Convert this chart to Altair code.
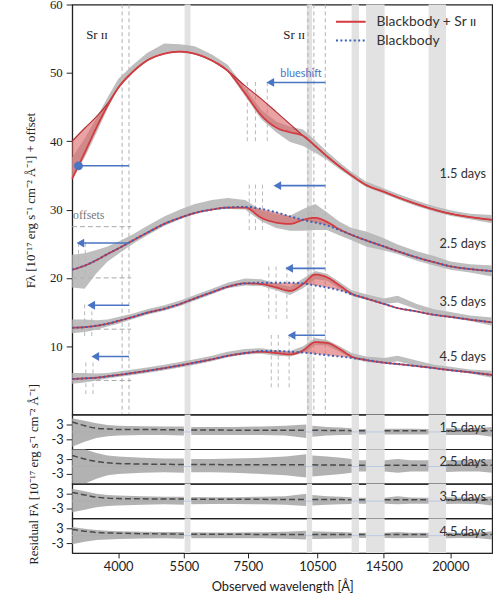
import altair as alt
import pandas as pd

# ---------------- data ----------------
wl = [3200, 3400, 3600, 3800, 4000, 4300, 4600, 5000, 5400, 5800, 6300, 6800, 7400,
      8000, 8600, 9200, 9800, 10400, 11000, 11700, 12400, 13300, 14500, 15500,
      17000, 18500, 20000, 22000, 24500]

epochs = ["1.5 days", "2.5 days", "3.5 days", "4.5 days"]

bb_15 = [40.0, 41.9, 43.6, 45.5, 47.8, 50.2, 51.8, 52.8, 53.1, 52.8, 51.8, 50.3, 48.1,
         46.2, 44.3, 42.5, 40.8, 39.3, 37.8, 36.3, 35.0, 33.6, 32.6, 31.8, 30.8, 30.0, 29.4, 28.9, 28.5]
red_15 = [34.5, 38.3, 42.0, 45.2, 47.8, 50.2, 51.8, 52.8, 53.1, 52.8, 51.8, 50.3, 47.0,
          43.8, 42.0, 41.3, 40.8, 39.3, 37.8, 36.3, 35.0, 33.6, 32.6, 31.8, 30.8, 30.0, 29.4, 28.9, 28.5]
bb_25 = [21.2, 21.8, 22.6, 23.5, 24.3, 25.5, 26.6, 27.9, 28.8, 29.5, 30.0, 30.3, 30.4,
         30.1, 29.6, 29.0, 28.5, 28.1, 27.7, 27.0, 26.3, 25.5, 24.6, 23.9, 23.0, 22.3, 21.7, 21.3, 21.0]
red_25 = [21.2, 21.8, 22.6, 23.5, 24.3, 25.5, 26.6, 27.9, 28.8, 29.5, 30.0, 30.3, 30.3,
          28.8, 28.1, 27.9, 28.5, 28.8, 28.2, 27.1, 26.3, 25.5, 24.6, 23.9, 23.0, 22.3, 21.7, 21.3, 21.0]
bb_35 = [12.7, 12.8, 13.0, 13.3, 13.7, 14.3, 14.9, 15.5, 16.2, 17.0, 17.9, 18.7, 19.2,
         19.3, 19.3, 19.3, 19.2, 18.9, 18.6, 18.2, 17.6, 17.0, 16.2, 15.6, 15.1, 14.6, 14.3, 13.9, 13.5]
red_35 = [12.7, 12.8, 13.0, 13.3, 13.7, 14.3, 14.9, 15.5, 16.2, 17.0, 17.9, 18.7, 19.2,
          19.1, 18.6, 18.1, 19.1, 20.5, 20.1, 18.9, 17.7, 17.0, 16.2, 15.6, 15.1, 14.6, 14.3, 13.9, 13.5]
bb_45 = [5.2, 5.3, 5.4, 5.6, 5.8, 6.1, 6.4, 6.8, 7.2, 7.6, 8.1, 8.6, 9.0,
         9.3, 9.3, 9.2, 9.1, 8.9, 8.7, 8.5, 8.3, 8.0, 7.6, 7.4, 7.1, 6.8, 6.5, 6.2, 5.8]
red_45 = [5.2, 5.3, 5.4, 5.6, 5.8, 6.1, 6.4, 6.8, 7.2, 7.6, 8.1, 8.6, 9.0,
          9.2, 9.0, 8.8, 9.4, 10.6, 10.5, 9.6, 8.5, 8.0, 7.6, 7.4, 7.1, 6.8, 6.5, 6.2, 5.8]

# observed spectrum: central value and spread of the noisy data
spec_15 = [36.0, 39.0, 42.3, 45.6, 48.4, 50.6, 52.3, 53.6, 53.6, 53.3, 52.2, 50.7, 47.2,
           43.9, 42.1, 41.0, 40.5, 39.2, 37.9, 36.4, 35.1, 33.7, 32.7, 31.9, 30.9, 30.1, 29.5, 29.0, 28.6]
sprd_15 = [1.6, 1.4, 1.1, 0.8, 0.7, 0.6, 0.6, 0.7, 0.6, 0.6, 0.5, 0.5, 0.6,
           0.7, 0.8, 1.1, 1.2, 0.9, 0.6, 0.5, 0.4, 0.4, 0.4, 0.4, 0.4, 0.4, 0.4, 0.4, 0.6]
spec_25 = [21.0, 21.0, 22.4, 23.5, 24.4, 25.7, 26.9, 28.3, 29.3, 30.1, 30.7, 30.9, 30.7,
           29.1, 28.3, 28.0, 28.5, 28.9, 28.3, 27.2, 26.4, 25.7, 24.9, 24.2, 23.2, 22.5, 21.8, 21.4, 21.0]
sprd_25 = [2.4, 2.6, 1.7, 1.1, 0.9, 0.7, 0.7, 0.7, 0.7, 0.7, 0.7, 0.8, 0.7,
           0.8, 1.0, 1.1, 1.6, 1.9, 1.3, 1.0, 0.9, 1.1, 0.9, 0.7, 0.7, 0.7, 0.6, 0.6, 0.8]
spec_35 = [12.9, 13.0, 13.1, 13.4, 13.8, 14.4, 15.0, 15.6, 16.3, 17.1, 18.0, 18.9, 19.4,
           19.3, 18.7, 18.1, 19.2, 20.4, 20.1, 18.9, 17.8, 17.2, 16.6, 16.9, 15.8, 15.0, 14.6, 14.1, 13.6]
sprd_35 = [1.0, 0.9, 0.7, 0.5, 0.5, 0.4, 0.4, 0.4, 0.4, 0.4, 0.4, 0.4, 0.5,
           0.5, 0.5, 0.6, 0.7, 0.6, 0.5, 0.5, 0.4, 0.4, 0.4, 0.5, 0.4, 0.4, 0.4, 0.4, 0.6]
spec_45 = [5.3, 5.4, 5.5, 5.7, 5.9, 6.2, 6.5, 6.9, 7.3, 7.7, 8.2, 8.8, 9.2,
           9.3, 9.0, 8.9, 9.5, 10.7, 10.5, 9.6, 8.6, 8.1, 7.9, 8.2, 7.5, 7.0, 6.7, 6.3, 5.9]
sprd_45 = [0.8, 0.7, 0.5, 0.4, 0.4, 0.4, 0.4, 0.4, 0.4, 0.4, 0.4, 0.4, 0.4,
           0.4, 0.4, 0.4, 0.5, 0.5, 0.4, 0.4, 0.4, 0.4, 0.4, 0.4, 0.4, 0.3, 0.3, 0.3, 0.5]

# excluded (telluric / dichroic) regions
band_start = [5520, 9980, 12400, 13300, 18000]
band_end = [5680, 10240, 12850, 14550, 19600]

# Sr II rest wavelengths
sr_lines = [4077, 4215, 10036, 10327, 10914]

# blueshifted Sr II positions (short markers) per epoch
mark_epoch = ["1.5 days"] * 3 + ["2.5 days"] * 5 + ["3.5 days"] * 5 + ["4.5 days"] * 5
mark_wl = [7480, 7780, 8240,
           3300, 3410, 7550, 7780, 8050,
           3400, 3520, 8300, 8600, 9060,
           3420, 3540, 8400, 8690, 9160]
mark_lo = [40, 40, 40, 20.5, 20.5, 27, 27, 27, 11.5, 11.5, 14, 14, 14, 3.0, 3.0, 4, 4, 4]
mark_hi = [49, 49, 49, 25.5, 25.5, 34, 34, 34, 16.5, 16.5, 21.8, 21.8, 21.8, 8.0, 8.0, 11.7, 11.7, 11.7]

# blueshift arrows
arrow_from = [3300, 8360, 3330, 8650, 3510, 9160, 3580, 9270]
arrow_to = [4215, 10914, 4215, 10914, 4215, 10914, 4215, 10914]
arrow_y = [36.4, 48.6, 25.1, 33.5, 16.0, 21.4, 8.5, 11.6]
arrow_head = ["circle", "triangle-left", "triangle-left", "triangle-left",
              "triangle-left", "triangle-left", "triangle-left", "triangle-left"]

offsets = [27.5, 20.0, 12.5, 5.0]
offset_from, offset_to = 3200, 4260
label_y_top = [35.2, 25.0, 16.5, 8.4]

# residuals
res_wl = [3200, 3400, 3600, 3800, 4000, 4500, 5000, 5500,
          5700, 6300, 7000, 8000, 9000, 9950,
          10250, 11000, 11800, 12400,
          12850, 13300,
          14550, 15500, 16500, 18000,
          19600, 21000, 23000, 24500]
res_seg = [0] * 8 + [1] * 6 + [2] * 4 + [3] * 2 + [4] * 4 + [5] * 4
res_lo = [
    [-6.0, -4.0, -2.5, -1.8, -1.5, -1.3, -1.2, -1.5, -1.3, -1.2, -1.2, -1.3, -1.5, -2.5,
     -2.0, -1.5, -1.3, -1.2, -1.0, -1.0, -1.0, -1.0, -1.0, -1.0, -1.2, -1.2, -1.3, -2.0],
    [-7.0, -7.0, -5.0, -3.5, -3.0, -2.5, -2.3, -2.5, -2.3, -2.3, -2.5, -3.0, -3.5, -4.5,
     -4.0, -3.5, -3.0, -2.5, -2.0, -2.0, -2.0, -2.5, -2.0, -2.0, -2.2, -2.0, -2.0, -2.5],
    [-4.5, -3.5, -2.5, -2.0, -1.8, -1.5, -1.3, -1.5, -1.3, -1.2, -1.2, -1.3, -1.5, -2.0,
     -1.8, -1.5, -1.3, -1.2, -1.1, -1.1, -1.1, -1.3, -1.1, -1.1, -1.2, -1.1, -1.2, -1.8],
    [-3.5, -2.5, -1.8, -1.5, -1.3, -1.1, -1.0, -1.2, -1.0, -1.0, -1.0, -1.0, -1.2, -1.5,
     -1.3, -1.2, -1.1, -1.0, -0.9, -0.9, -0.9, -1.0, -0.9, -0.9, -1.0, -0.9, -1.0, -1.5],
]
res_hi = [
    [5.5, 4.5, 3.5, 2.8, 2.5, 2.3, 2.2, 2.2, 2.0, 2.0, 2.0, 2.2, 2.5, 3.0,
     2.5, 2.0, 1.8, 1.5, 1.2, 1.2, 1.3, 1.3, 1.3, 1.2, 1.5, 1.5, 1.6, 2.0],
    [7.0, 7.0, 5.5, 4.5, 4.0, 3.5, 3.2, 3.2, 3.0, 3.0, 3.2, 3.5, 4.0, 5.0,
     4.5, 4.0, 3.5, 3.0, 2.5, 2.5, 2.5, 3.0, 2.5, 2.5, 2.5, 2.5, 2.5, 3.0],
    [5.0, 4.0, 3.0, 2.5, 2.3, 2.0, 1.8, 1.8, 1.7, 1.6, 1.6, 1.8, 2.0, 3.0,
     2.5, 2.0, 1.8, 1.6, 1.4, 1.4, 1.4, 2.0, 1.5, 1.4, 1.6, 1.5, 1.5, 2.0],
    [3.5, 2.8, 2.3, 2.0, 1.8, 1.6, 1.5, 1.5, 1.4, 1.3, 1.3, 1.4, 1.6, 2.0,
     1.8, 1.6, 1.5, 1.3, 1.2, 1.2, 1.2, 1.5, 1.2, 1.2, 1.3, 1.2, 1.3, 1.8],
]
res_trend = [
    [4.0, 2.5, 1.5, 1.2, 1.0, 1.0, 0.9, 0.8, 0.8, 0.8, 0.7, 0.7, 0.7, 0.7,
     0.7, 0.6, 0.6, 0.5, 0.5, 0.5, 0.5, 0.5, 0.5, 0.5, 0.5, 0.5, 0.5, 0.5],
    [4.5, 3.0, 2.0, 1.5, 1.2, 1.0, 0.9, 0.8, 0.8, 0.8, 0.7, 0.7, 0.7, 0.7,
     0.7, 0.6, 0.6, 0.5, 0.5, 0.5, 0.5, 0.5, 0.5, 0.5, 0.5, 0.5, 0.5, 0.5],
    [3.5, 2.5, 1.6, 1.2, 1.0, 0.9, 0.8, 0.8, 0.7, 0.7, 0.7, 0.7, 0.6, 0.6,
     0.6, 0.6, 0.6, 0.5, 0.5, 0.5, 0.5, 0.5, 0.5, 0.5, 0.5, 0.5, 0.5, 0.5],
    [2.5, 1.8, 1.3, 1.1, 1.0, 0.8, 0.7, 0.6, 0.6, 0.6, 0.6, 0.5, 0.5, 0.5,
     0.5, 0.5, 0.5, 0.5, 0.5, 0.5, 0.5, 0.5, 0.5, 0.5, 0.5, 0.5, 0.5, 0.5],
]
x_ticks = [4000, 5500, 7500, 10500, 14500, 20000]

# ---------------- tables ----------------
bbs = [bb_15, bb_25, bb_35, bb_45]
reds = [red_15, red_25, red_35, red_45]
specs = [spec_15, spec_25, spec_35, spec_45]
sprds = [sprd_15, sprd_25, sprd_35, sprd_45]
rows = []
for ep, bb, rd, sp, sd in zip(epochs, bbs, reds, specs, sprds):
    for w, b, r, s, d in zip(wl, bb, rd, sp, sd):
        rows.append(dict(wl=w, epoch=ep, bb=b, red=r, lo=s - d, hi=s + d))
curves = pd.DataFrame(rows)
bands = pd.DataFrame(dict(start=band_start, end=band_end))
lines = pd.DataFrame(dict(wl=sr_lines))
marks = pd.DataFrame(dict(epoch=mark_epoch, wl=mark_wl, lo=mark_lo, hi=mark_hi))
arrows = pd.DataFrame(dict(x1=arrow_from, x2=arrow_to, y=arrow_y, head=arrow_head))
offs = pd.DataFrame(dict(y=offsets, x1=[offset_from] * 4, x2=[offset_to] * 4))
day_labels = pd.DataFrame(dict(epoch=epochs, y=label_y_top, wl=[23800] * 4))

# ---------------- styles ----------------
RED = "#d43a3f"
PINK = "#dd6466"
BLUE = "#3b5fb5"
ARROW = "#4a74c4"
GREY = "#b3b3b3"
BAND = "#e2e2e2"
W = 425
SERIF = "Liberation Serif"
SANS = "Lato"

XS = alt.Scale(type="log", domain=[3200, 24500], nice=False)
YT = alt.Scale(domain=[0, 60], nice=False)
YR = alt.Scale(domain=[-7, 7], nice=False)

y_axis_top = alt.Axis(values=[10, 20, 30, 40, 50, 60], grid=False,
                      title="Fλ [10⁻¹⁷ erg s⁻¹ cm⁻² Å⁻¹] + offset",
                      titleFont=SERIF, titleFontSize=13, titleFontWeight="normal",
                      titleColor="#222", titleX=-42, titleY=198, titleBaseline="middle",
                      labelFont=SERIF, labelFontSize=13, labelColor="#222",
                      tickSize=6, labelPadding=4,
                      domainColor="#222", tickColor="#222")


def X(field, axis=None):
    return alt.X(field, type="quantitative", scale=XS, axis=axis)


def YTOP(field):
    return alt.Y(field, type="quantitative", scale=YT, axis=y_axis_top)


MODEL = ["Blackbody + Sr ɪɪ", "Blackbody"]
cscale = alt.Scale(domain=MODEL, range=[RED, BLUE])
dscale = alt.Scale(domain=MODEL, range=[[1, 0], [2, 2.5]])
leg = alt.Legend(title=None, orient="none", legendX=266, legendY=8,
                 symbolType="stroke", symbolSize=900, symbolStrokeWidth=2,
                 labelFont=SANS, labelFontSize=14, labelColor="#333",
                 clipHeight=19, labelOffset=10, rowPadding=0, padding=0)

base = alt.Chart(curves)

band_layer = alt.Chart(bands).mark_rect(color=BAND).encode(x=X("start"), x2="end")
sr_layer = alt.Chart(lines).mark_rule(color="#b0b0b0", strokeDash=[4, 3], strokeWidth=1).encode(x=X("wl"))
mark_layer = alt.Chart(marks).mark_rule(color="#b8b8b8", strokeDash=[4, 3], strokeWidth=1).encode(
    x=X("wl"), y=YTOP("lo"), y2="hi")
off_layer = alt.Chart(offs).mark_rule(color="#a8a8a8", strokeDash=[5, 3], strokeWidth=1).encode(
    x=X("x1"), x2="x2", y=YTOP("y"))
spec_layer = base.mark_area(color=GREY, opacity=0.85).encode(
    x=X("wl"), y=YTOP("lo"), y2="hi", detail="epoch:N")
fill_layer = base.mark_area(color=PINK, opacity=0.6, interpolate="monotone").encode(
    x=X("wl"), y=YTOP("red"), y2="bb", detail="epoch:N")
bb_edge = base.transform_filter("datum.epoch == '1.5 days'").mark_line(
    color="#b03036", strokeWidth=1.2, interpolate="monotone").encode(x=X("wl"), y=YTOP("bb"))
red_layer = base.transform_calculate(model="'Blackbody + Sr ɪɪ'").mark_line(
    strokeWidth=1.8, interpolate="monotone").encode(
    x=X("wl"), y=YTOP("red"),
    color=alt.Color("model:N", scale=cscale, legend=leg),
    strokeDash=alt.StrokeDash("model:N", scale=dscale, legend=leg),
    detail="epoch:N")
blue_layer = base.transform_filter("datum.epoch != '1.5 days'").transform_calculate(
    model="'Blackbody'").mark_line(strokeWidth=2, interpolate="monotone").encode(
    x=X("wl"), y=YTOP("bb"),
    color=alt.Color("model:N", scale=cscale, legend=leg),
    strokeDash=alt.StrokeDash("model:N", scale=dscale, legend=leg),
    detail="epoch:N")
arrow_line = alt.Chart(arrows).mark_rule(color=ARROW, strokeWidth=1.6).encode(
    x=X("x1"), x2="x2", y=YTOP("y"))
arrow_tip = alt.Chart(arrows).mark_point(color=ARROW, filled=True, opacity=1, size=80).encode(
    x=X("x1"), y=YTOP("y"),
    shape=alt.Shape("head:N", scale=alt.Scale(domain=["circle", "triangle-left"],
                                              range=["circle", "triangle-left"]), legend=None))
sr_text = alt.Chart(pd.DataFrame(dict(wl=[3610, 9390], y=[55.5, 55.5], t=["Sr ɪɪ", "Sr ɪɪ"]))).mark_text(
    font=SERIF, fontSize=13, color="#222").encode(x=X("wl"), y=YTOP("y"), text="t:N")
off_text = alt.Chart(pd.DataFrame(dict(wl=[3215], y=[29.2], t=["offsets"]))).mark_text(
    font=SERIF, fontSize=12, color="#777", align="left").encode(x=X("wl"), y=YTOP("y"), text="t:N")
blue_text = alt.Chart(pd.DataFrame(dict(wl=[9700], y=[49.9], t=["blueshift"]))).mark_text(
    font=SANS, fontSize=11, color=ARROW).encode(x=X("wl"), y=YTOP("y"), text="t:N")
day_text = alt.Chart(day_labels).mark_text(font=SANS, fontSize=13, color="#333", align="right").encode(
    x=X("wl"), y=YTOP("y"), text="epoch:N")

top = alt.layer(band_layer, sr_layer, mark_layer, off_layer, spec_layer, fill_layer, bb_edge,
                red_layer, blue_layer, arrow_line, arrow_tip, sr_text, off_text,
                blue_text, day_text).properties(width=W, height=415)


def resid_panel(i):
    df = pd.DataFrame(dict(wl=res_wl, seg=res_seg, lo=res_lo[i], hi=res_hi[i], d=res_trend[i]))
    last = i == 3
    if last:
        xaxis = alt.Axis(values=x_ticks, labelExpr="'' + datum.value", grid=False,
                         title="Observed wavelength [Å]", titleFont=SANS, titleFontSize=13,
                         titleFontWeight="normal", titleColor="#222", titlePadding=7,
                         labelFont=SANS, labelFontSize=13, labelColor="#222",
                         tickSize=5, labelPadding=3, domainColor="#222", tickColor="#222")
    else:
        xaxis = None
    if i == 2:
        yaxis = alt.Axis(values=[-3, 3], labelExpr="'' + datum.value", grid=False,
                         title="Residual Fλ [10⁻¹⁷ erg s⁻¹ cm⁻² Å⁻¹]",
                         titleFont=SERIF, titleFontSize=13, titleFontWeight="normal",
                         titleColor="#222", titleX=-39, titleY=-10, titleBaseline="middle",
                         labelFont=SANS, labelFontSize=13, labelColor="#222",
                         tickSize=6, labelPadding=3, domainColor="#222", tickColor="#222")
    else:
        yaxis = alt.Axis(values=[-3, 3], labelExpr="'' + datum.value", grid=False, title=None,
                         labelFont=SANS, labelFontSize=13, labelColor="#222",
                         tickSize=6, labelPadding=3, domainColor="#222", tickColor="#222")

    def RX(field):
        return alt.X(field, type="quantitative", scale=XS, axis=xaxis)

    def RY(field):
        return alt.Y(field, type="quantitative", scale=YR, axis=yaxis)

    rb = alt.Chart(bands).mark_rect(color=BAND).encode(x=RX("start"), x2="end")
    zero = alt.Chart(pd.DataFrame(dict(z=[0]))).mark_rule(color="#b9c8e4", strokeWidth=1).encode(y=RY("z"))
    area = alt.Chart(df).mark_area(color="#aaaaaa", opacity=0.9, clip=True).encode(
        x=RX("wl"), y=RY("lo"), y2="hi", detail="seg:N")
    trend = alt.Chart(df).mark_line(color="#4a4a4a", strokeDash=[6, 3], strokeWidth=1.5,
                                    clip=True, interpolate="monotone").encode(
        x=RX("wl"), y=RY("d"), detail="seg:N")
    lab = alt.Chart(pd.DataFrame(dict(wl=[23800], y=[1.6], t=[epochs[i]]))).mark_text(
        font=SANS, fontSize=13, color="#333", align="right").encode(
        x=RX("wl"), y=RY("y"), text="t:N")
    return alt.layer(rb, zero, area, trend, lab).properties(width=W, height=35)


chart = alt.vconcat(top, *[resid_panel(i) for i in range(4)], spacing=0, bounds="flush").properties(
    padding={"left": 24, "right": 5, "top": -6, "bottom": 0},
    background="white",
).configure_view(stroke="#222", strokeWidth=1.2).resolve_scale(color="shared", strokeDash="shared")

chart.save("out.html", embed_options={"renderer": "svg", "actions": False})
